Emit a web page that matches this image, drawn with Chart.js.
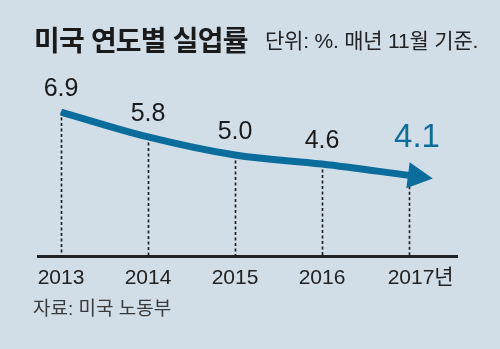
<!DOCTYPE html>
<html><head><meta charset="utf-8">
<script src="https://cdn.jsdelivr.net/npm/chart.js@4/dist/chart.umd.min.js"></script>
<style>
html,body{margin:0;padding:0;background:#d1dde7;}
#wrap{position:relative;width:500px;height:349px;overflow:hidden;background:#d1dde7;}
#c{position:absolute;left:0;top:0;}
.t{position:absolute;white-space:nowrap;line-height:1;font-family:"Liberation Sans","Noto Sans CJK KR",sans-serif;}
#title{left:34px;top:28px;font-size:28px;font-weight:bold;color:#1a1a1a;letter-spacing:-0.8px;}
#sub{left:265px;top:30px;font-size:21px;color:#222;letter-spacing:-0.2px;}
#src{left:33px;top:299px;font-size:19px;color:#3a3a3a;}
</style></head><body>
<div id="wrap">
<canvas id="c" width="500" height="349"></canvas>
<div class="t" id="title">미국 연도별 실업률</div>
<div class="t" id="sub">단위: %. 매년 11월 기준.</div>
<div class="t" id="src">자료: 미국 노동부</div>
</div>
<script>
const years = ['2013', '2014', '2015', '2016', '2017'];
const tickLabels = ['2013', '2014', '2015', '2016', '2017년'];
const rates = [6.9, 5.8, 5.0, 4.6, 4.1];
const rateLabels = ['6.9', '5.8', '5.0', '4.6', '4.1'];

const BLUE = '#0b6d9b';
const FONT = '"Liberation Sans", "Noto Sans CJK KR", sans-serif';

const overlay = {
  id: 'overlay',
  beforeDatasetsDraw(chart) {
    const ctx = chart.ctx, meta = chart.getDatasetMeta(0), bottom = chart.chartArea.bottom;
    ctx.save();
    ctx.strokeStyle = '#1a1a1a';
    ctx.lineWidth = 1.6;
    ctx.setLineDash([3, 2.5]);
    meta.data.forEach(p => {
      const x = Math.round(p.x) + 0.5;
      ctx.beginPath();
      ctx.moveTo(x, p.y);
      ctx.lineTo(x, bottom - 1);
      ctx.stroke();
    });
    ctx.restore();
  },
  afterDatasetsDraw(chart) {
    const ctx = chart.ctx, pts = chart.getDatasetMeta(0).data;
    const last = pts[pts.length - 1], prev = pts[pts.length - 2];
    const fx = (last.cp1x !== undefined && last.cp1x !== last.x) ? last.cp1x : prev.x;
    const fy = (last.cp1x !== undefined && last.cp1x !== last.x) ? last.cp1y : prev.y;
    let dx = last.x - fx, dy = last.y - fy;
    const len = Math.hypot(dx, dy); dx /= len; dy /= len;
    const nx = -dy, ny = dx;
    const bx = last.x - dx * 1, by = last.y - dy * 1;
    ctx.save();
    ctx.fillStyle = BLUE;
    ctx.beginPath();
    ctx.moveTo(bx + nx * 13, by + ny * 13);
    ctx.lineTo(last.x + dx * 24, last.y + dy * 24);
    ctx.lineTo(bx - nx * 13, by - ny * 13);
    ctx.closePath();
    ctx.fill();
    ctx.textAlign = 'center';
    ctx.textBaseline = 'middle';
    pts.forEach((p, i) => {
      if (i === pts.length - 1) {
        ctx.fillStyle = BLUE;
        ctx.font = '33px ' + FONT;
        ctx.fillText(rateLabels[i], p.x + 8, p.y - 37);
      } else {
        ctx.fillStyle = '#1a1a1a';
        ctx.font = '25px ' + FONT;
        ctx.fillText(rateLabels[i], p.x, p.y - 23);
      }
    });
    ctx.restore();
  }
};

new Chart(document.getElementById('c'), {
  type: 'line',
  data: {
    datasets: [{
      data: rates.map((v, i) => ({ x: i, y: v })),
      borderColor: BLUE,
      borderWidth: 7,
      borderCapStyle: 'butt',
      pointRadius: 0,
      tension: 0.35,
      fill: false
    }]
  },
  options: {
    responsive: false,
    animation: false,
    devicePixelRatio: 1,
    layout: { padding: { left: 38, right: 43, top: 60, bottom: 49 } },
    plugins: { legend: { display: false }, tooltip: { enabled: false }, title: { display: false } },
    scales: {
      x: {
        type: 'linear',
        min: -0.2644,
        max: 4.5517,
        afterBuildTicks: s => { s.ticks = years.map((_, i) => ({ value: i })); },
        grid: { display: false, drawTicks: false },
        border: { display: true, color: '#222', width: 3 },
        ticks: {
          padding: 9,
          color: '#222',
          autoSkip: false,
          maxRotation: 0,
          font: { family: FONT, size: 21 },
          callback: (v, i) => (i === years.length - 1 ? '    ' : '') + tickLabels[i]
        }
      },
      y: { display: false, min: 0.5, max: 9.2 }
    }
  },
  plugins: [overlay]
});
</script>
</body></html>
